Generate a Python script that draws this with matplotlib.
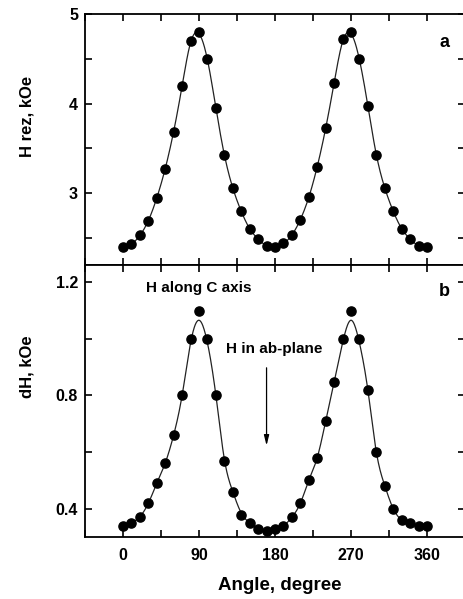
import numpy as np
import matplotlib
matplotlib.use("Agg")
import matplotlib.pyplot as plt
from matplotlib.ticker import MultipleLocator

plt.rcParams['font.family'] = ['Liberation Sans', 'DejaVu Sans']
plt.rcParams['font.weight'] = 'bold'

angle = np.arange(0, 361, 10)
h_rez = [2.405, 2.435, 2.535, 2.695, 2.948, 3.275, 3.688, 4.197, 4.70, 4.80,
         4.498, 3.952, 3.431, 3.06, 2.80, 2.606, 2.49, 2.416, 2.405, 2.44,
         2.535, 2.706, 2.955, 3.297, 3.725, 4.23, 4.717, 4.803, 4.498, 3.974,
         3.431, 3.06, 2.80, 2.606, 2.49, 2.416, 2.405]
dh = [0.340, 0.350, 0.370, 0.419, 0.490, 0.561, 0.660, 0.80, 0.999, 1.099,
      0.999, 0.80, 0.570, 0.460, 0.379, 0.350, 0.330, 0.320, 0.330, 0.340,
      0.370, 0.419, 0.500, 0.580, 0.709, 0.8475, 0.999, 1.099, 0.999, 0.818,
      0.600, 0.481, 0.40, 0.361, 0.350, 0.340, 0.340]

# fitted curves at 10 degree steps
fit_a = [2.405, 2.435, 2.53, 2.695, 2.948, 3.275, 3.69, 4.197, 4.68, 4.78,
         4.49, 3.952, 3.431, 3.06, 2.80, 2.606, 2.49, 2.416, 2.405, 2.44,
         2.535, 2.706, 2.955, 3.297, 3.725, 4.23, 4.69, 4.78, 4.49, 3.974,
         3.431, 3.06, 2.80, 2.606, 2.49, 2.416, 2.405]
fit_b = [0.340, 0.350, 0.372, 0.419, 0.490, 0.561, 0.660, 0.80, 0.985, 1.065,
         0.985, 0.80, 0.575, 0.460, 0.385, 0.350, 0.330, 0.322, 0.330, 0.340,
         0.370, 0.419, 0.500, 0.580, 0.709, 0.8475, 0.985, 1.065, 0.985, 0.818,
         0.600, 0.481, 0.40, 0.361, 0.350, 0.340, 0.340]

xticks = [0, 90, 180, 270, 360]


def spline(x, y, n=20):
    x = np.asarray(x, float); y = np.asarray(y, float)
    nseg = len(x) - 1
    h = np.diff(x)
    A = np.zeros((len(x), len(x))); r = np.zeros(len(x))
    A[0, 0] = A[-1, -1] = 1
    for i in range(1, nseg):
        A[i, i - 1] = h[i - 1]; A[i, i] = 2 * (h[i - 1] + h[i]); A[i, i + 1] = h[i]
        r[i] = 6 * ((y[i + 1] - y[i]) / h[i] - (y[i] - y[i - 1]) / h[i - 1])
    M = np.linalg.solve(A, r)
    xs, ys = [], []
    for i in range(nseg):
        t = np.linspace(x[i], x[i + 1], n, endpoint=False)
        a = x[i + 1] - t; b = t - x[i]
        s = (M[i] * a**3 + M[i + 1] * b**3) / (6 * h[i]) + \
            (y[i] / h[i] - M[i] * h[i] / 6) * a + (y[i + 1] / h[i] - M[i + 1] * h[i] / 6) * b
        xs.append(t); ys.append(s)
    xs.append([x[-1]]); ys.append([y[-1]])
    return np.concatenate(xs), np.concatenate(ys)


fig = plt.figure(figsize=(4.64, 5.99), dpi=100)
L, R = 85 / 464, 465 / 464
ax1 = fig.add_axes([L, 1 - 265 / 599, R - L, (265 - 14) / 599])
ax2 = fig.add_axes([L, 1 - 537 / 599, R - L, (537 - 265) / 599], sharex=ax1)

for ax, y, f in [(ax1, h_rez, fit_a), (ax2, dh, fit_b)]:
    xs, ys = spline(angle, f)
    ax.plot(xs, ys, color='#222222', lw=0.9, zorder=2)
    ax.plot(angle, y, 'o', color='black', ms=6.6, zorder=3)
    ax.set_xlim(-45, 405)
    ax.xaxis.set_major_locator(MultipleLocator(90))
    ax.xaxis.set_minor_locator(MultipleLocator(45))
    ax.tick_params(which='both', direction='in', top=True, right=True,
                   length=5, width=1.2, labelsize=11.5, pad=5)
    for s in ax.spines.values():
        s.set_linewidth(1.3)
    for lab in ax.get_yticklabels() + ax.get_xticklabels():
        lab.set_fontweight('bold')

ax1.set_ylim(2.2, 5.0)
ax1.yaxis.set_major_locator(MultipleLocator(1))
ax1.yaxis.set_minor_locator(MultipleLocator(0.5))
ax1.tick_params(labelbottom=False)
ax1.set_ylabel('H rez, kOe', fontsize=12, fontweight='bold')
ax1.text(381, 4.68, 'a', fontsize=13, fontweight='bold', ha='center', va='center')

ax2.set_ylim(0.3, 1.26)
ax2.yaxis.set_major_locator(MultipleLocator(0.4))
ax2.yaxis.set_minor_locator(MultipleLocator(0.2))
ax2.set_xticks(xticks)
ax2.set_xticklabels([str(t) for t in xticks], fontweight='bold')
ax2.tick_params(axis='x', pad=8)
ax2.set_ylabel('dH, kOe', fontsize=12, fontweight='bold')
ax2.set_xlabel('Angle, degree', fontsize=13.5, fontweight='bold', labelpad=10)
ax2.text(381, 1.165, 'b', fontsize=13, fontweight='bold', ha='center', va='center')
ax2.text(90, 1.179, 'H along C axis', fontsize=11, fontweight='bold', ha='center', va='center')
ax2.text(179, 0.963, 'H in ab-plane', fontsize=11, fontweight='bold', ha='center', va='center')
ax2.annotate('', xy=(170, 0.613), xytext=(170, 0.907),
             arrowprops=dict(arrowstyle='-|>,head_length=0.6,head_width=0.15',
                             color='black', lw=0.9))

ax1.yaxis.set_label_coords(-0.134, 0.59)
ax2.yaxis.set_label_coords(-0.134, 0.625)
ax2.xaxis.set_label_coords((280 - 85) / 380, -0.14)
ax2.xaxis.label.set_va('center')
ax2.xaxis.set_label_coords((280 - 85) / 380, 1 - (585 - 265) / 272)

fig.savefig('out.png', dpi=100)
